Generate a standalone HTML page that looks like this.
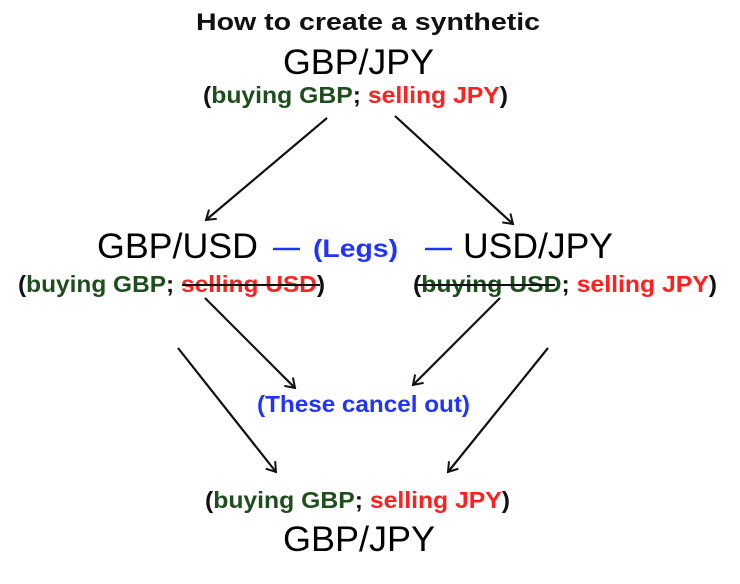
<!DOCTYPE html>
<html><head><meta charset="utf-8"><style>
html,body{margin:0;padding:0;background:#fff;}
svg{display:block;}
text{font-family:"Liberation Sans",Arial,sans-serif;}
.b{font-weight:bold;}
</style></head><body>
<svg width="740" height="584" viewBox="0 0 740 584" xmlns="http://www.w3.org/2000/svg">
<defs>
<marker id="a" markerWidth="14" markerHeight="14" refX="11" refY="7" orient="auto" markerUnits="userSpaceOnUse">
<path d="M2,1 L11,7 L2,13" fill="none" stroke="#111" stroke-width="2"/>
</marker>
</defs>
<text x="196" y="30" class="b" font-size="24" textLength="344" lengthAdjust="spacingAndGlyphs" fill="#111">How to create a synthetic</text>
<text x="283" y="74" font-size="35" textLength="151" lengthAdjust="spacingAndGlyphs" fill="#000">GBP/JPY</text>
<text x="203" y="103" class="b" font-size="23" textLength="305" lengthAdjust="spacingAndGlyphs"><tspan fill="#111">(</tspan><tspan fill="#1e4d1e">buying GBP</tspan><tspan fill="#111">; </tspan><tspan fill="#ff2020">selling JPY</tspan><tspan fill="#111">)</tspan></text>

<g stroke="#111" stroke-width="2.2" marker-end="url(#a)">
<line x1="327" y1="118" x2="206" y2="220"/>
<line x1="395" y1="116" x2="513" y2="224"/>
<line x1="205" y1="298" x2="295" y2="388"/>
<line x1="500" y1="298" x2="413" y2="385"/>
<line x1="178" y1="348" x2="276" y2="472"/>
<line x1="548" y1="348" x2="448" y2="472"/>
</g>

<text x="97" y="258" font-size="35" textLength="161" lengthAdjust="spacingAndGlyphs" fill="#000">GBP/USD</text>
<text x="463" y="258" font-size="35" textLength="150" lengthAdjust="spacingAndGlyphs" fill="#000">USD/JPY</text>
<line x1="273" y1="249" x2="300" y2="249" stroke="#2233ff" stroke-width="2.5"/>
<line x1="425" y1="249" x2="452" y2="249" stroke="#2233ff" stroke-width="2.5"/>
<text x="313" y="257" class="b" font-size="25" textLength="85" lengthAdjust="spacingAndGlyphs" fill="#2233ff">(Legs)</text>

<text x="18" y="292" class="b" font-size="23" textLength="307" lengthAdjust="spacingAndGlyphs"><tspan fill="#111">(</tspan><tspan fill="#1e4d1e">buying GBP</tspan><tspan fill="#111">; </tspan><tspan fill="#ff2020">selling USD</tspan><tspan fill="#111">)</tspan></text>
<line x1="182" y1="285" x2="320" y2="285" stroke="#111" stroke-width="2"/>
<text x="413" y="292" class="b" font-size="23" textLength="304" lengthAdjust="spacingAndGlyphs"><tspan fill="#111">(</tspan><tspan fill="#1e4d1e">buying USD</tspan><tspan fill="#111">; </tspan><tspan fill="#ff2020">selling JPY</tspan><tspan fill="#111">)</tspan></text>
<line x1="416" y1="285" x2="555" y2="285" stroke="#111" stroke-width="2"/>

<text x="257" y="412" class="b" font-size="23" textLength="213" lengthAdjust="spacingAndGlyphs" fill="#2233ff">(These cancel out)</text>

<text x="205" y="508" class="b" font-size="23" textLength="305" lengthAdjust="spacingAndGlyphs"><tspan fill="#111">(</tspan><tspan fill="#1e4d1e">buying GBP</tspan><tspan fill="#111">; </tspan><tspan fill="#ff2020">selling JPY</tspan><tspan fill="#111">)</tspan></text>
<text x="283" y="551" font-size="35" textLength="152" lengthAdjust="spacingAndGlyphs" fill="#000">GBP/JPY</text>
</svg>
</body></html>
